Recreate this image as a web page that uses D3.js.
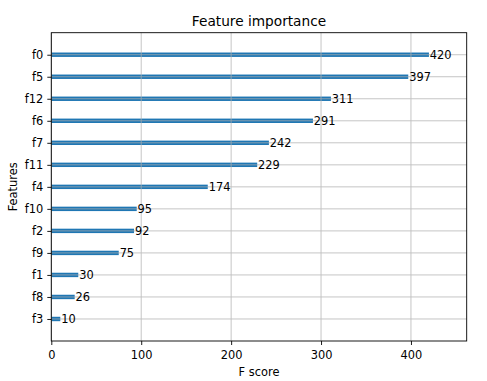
<!DOCTYPE html>
<html><head><meta charset="utf-8">
<script src="https://cdn.jsdelivr.net/npm/d3@7"></script>
<style>body{margin:0;background:#fff}svg{display:block}text{font-family:"DejaVu Sans",sans-serif;fill:#000}</style>
</head><body><svg id="c" width="487" height="381"></svg>
<script>
const features = ["f0","f5","f12","f6","f7","f11","f4","f10","f2","f9","f1","f8","f3"];
const scores = [420,397,311,291,242,229,174,95,92,75,30,26,10];
const xTicks = [0,100,200,300,400];

const svg = d3.select("#c");
const L = 51.3, R = 466.7, T = 32.7, B = 341;
const FS = 11.4;
const x = d3.scaleLinear().domain([0, d3.max(scores)*1.1]).range([L, R]);
const y = d3.scaleLinear().domain([-1, features.length]).range([T, B]);
const yPos = i => y(i);

// bars
const bh = y(0.1) - y(-0.1);
svg.append("g").selectAll("rect").data(scores).join("rect")
  .attr("x", x(0)).attr("y", (d,i)=>yPos(i)-bh/2)
  .attr("width", d=>x(d)-x(0)).attr("height", bh).attr("fill","#1f77b4");

// grid
const g = svg.append("g").attr("stroke","#b0b0b0").attr("stroke-width",0.9).attr("opacity",0.8);
g.selectAll(".v").data(xTicks).join("line").attr("x1",d=>x(d)).attr("x2",d=>x(d)).attr("y1",T).attr("y2",B);
g.selectAll(".h").data(features).join("line").attr("x1",L).attr("x2",R).attr("y1",(d,i)=>yPos(i)).attr("y2",(d,i)=>yPos(i));

// value labels
svg.append("g").selectAll("text").data(scores).join("text")
  .attr("x", d=>x(d+1)).attr("y",(d,i)=>yPos(i)).attr("dy","0.35em")
  .attr("font-size",FS).text(d=>d);

// axes
const xa = svg.append("g").attr("transform",`translate(0,${B})`)
  .call(d3.axisBottom(x).tickValues(xTicks).tickSize(4).tickPadding(5.5).tickFormat(d3.format("d")));
const ya = svg.append("g").attr("transform",`translate(${L},0)`)
  .call(d3.axisLeft(y).tickValues(d3.range(features.length)).tickSize(4).tickPadding(4).tickFormat(i=>features[i]));
[xa,ya].forEach(a=>{a.select(".domain").remove();a.selectAll("text").attr("font-size",FS).attr("font-family","DejaVu Sans");a.selectAll("line").attr("stroke-width",0.9);});

// spines
svg.append("rect").attr("x",L).attr("y",T).attr("width",R-L).attr("height",B-T)
  .attr("fill","none").attr("stroke","#000").attr("stroke-width",0.9);

svg.append("text").attr("x",(L+R)/2).attr("y",26.3).attr("text-anchor","middle").attr("font-size",13.7).text("Feature importance");
svg.append("text").attr("x",(L+R)/2).attr("y",376.3).attr("text-anchor","middle").attr("font-size",FS).text("F score");
svg.append("text").attr("transform",`translate(17.3,${(T+B)/2}) rotate(-90)`).attr("text-anchor","middle").attr("font-size",FS).text("Features");
</script></body></html>
